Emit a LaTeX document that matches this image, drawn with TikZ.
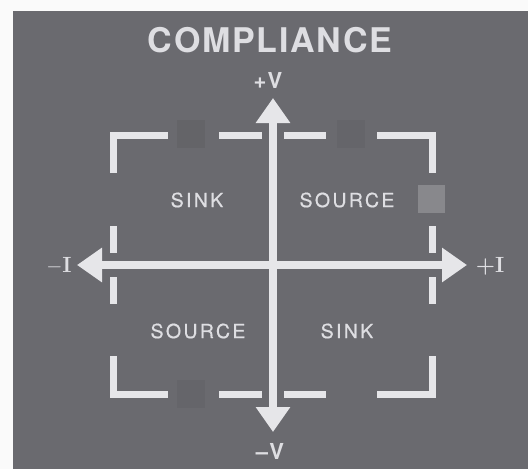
\documentclass[tikz,border=0pt]{standalone}
\usepackage{fontspec}
\setsansfont{TeX Gyre Heros}
\usetikzlibrary{arrows.meta}
\definecolor{panelgray}{RGB}{106,106,111}
\definecolor{marking}{RGB}{230,230,233}
\definecolor{lettering}{RGB}{222,222,226}
\tikzset{
  axis/.style = {draw=marking, line width=8pt,
    {Triangle[length=25pt,width=33pt]}-{Triangle[length=25pt,width=33pt]}},
  frame/.style = {draw=marking, line width=7pt, line cap=butt, line join=miter},
  quadrant/.style = {text=lettering, font=\sffamily\fontsize{19.5}{19.5}\selectfont\addfontfeature{LetterSpace=12,FakeBold=0.6}},
  polarity/.style = {text=lettering, font=\sffamily\bfseries\fontsize{22}{22}\selectfont\addfontfeature{LetterSpace=6}},
  current/.style = {text=lettering, font=\rmfamily\bfseries\fontsize{22}{22}\selectfont}
}
\begin{document}
\begin{tikzpicture}[x = 1pt, y = -1pt]
  \useasboundingbox (0,0) rectangle (528,469);
  \fill [white!96!gray] (0,0) rectangle (528,469);
  \fill [panelgray] (13,11) rectangle (528,469);
  % faint indicator marks
  \fill [panelgray!94!black] (177,120) rectangle (205,148);
  \fill [panelgray!95!black] (337,120) rectangle (365,148);
  \fill [panelgray!95!black] (177,380) rectangle (205,408);
  \fill [panelgray!80!white] (418,185) rectangle (445,213);
  % title
  \node (title) at (270,40) [text=lettering, font=\sffamily\bfseries\fontsize{34}{34}\selectfont\addfontfeature{LetterSpace=5}] {COMPLIANCE};
  % dashed frame
  \draw [frame] (113,173) -- (113,135) -- (168,135);
  \draw [frame] (377,135) -- (432,135) -- (432,173);
  \draw [frame] (113,356) -- (113,394) -- (168,394);
  \draw [frame] (377,394) -- (432,394) -- (432,356);
  \draw [frame] (219,135) -- (262,135);
  \draw [frame] (284,135) -- (326,135);
  \draw [frame] (219,394) -- (262,394);
  \draw [frame] (284,394) -- (326,394);
  \draw [frame] (113,226) -- (113,253);
  \draw [frame] (113,277) -- (113,304);
  \draw [frame] (432,226) -- (432,253);
  \draw [frame] (432,277) -- (432,304);
  % axes
  \coordinate (ineg) at (77,265);
  \coordinate (ipos) at (467,265);
  \coordinate (vpos) at (273,98);
  \coordinate (vneg) at (273,432);
  \draw [axis] (ineg) -- (ipos);
  \draw [axis] (vneg) -- (vpos);
  \node (vposlabel) at (268,80) [polarity] {+V};
  \node (vneglabel) at (270,451) [polarity] {--V};
  \node (ineglabel) at (59,266) [current] {$-$I};
  \node (iposlabel) at (490,266) [current] {+I};
  % quadrants
  \node (sinkup) at (197,200) [quadrant] {SINK};
  \node (sourceup) at (347,200) [quadrant] {SOURCE};
  \node (sourcedown) at (198,331) [quadrant] {SOURCE};
  \node (sinkdown) at (347,331) [quadrant] {SINK};
\end{tikzpicture}
\end{document}
